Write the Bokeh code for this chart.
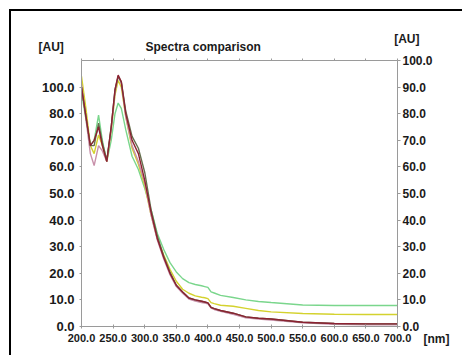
from bokeh.plotting import figure
from bokeh.models import Range1d, LinearAxis, FixedTicker, Title
from bokeh.embed import file_html
from bokeh.resources import INLINE

# Wavelength grid [nm]
wavelength = [200, 207, 214, 220, 227, 233, 240, 247, 253, 258, 263, 270, 280, 290, 300,
              310, 320, 330, 340, 350, 360, 370, 380, 390, 395, 400, 405, 410, 420, 440,
              460, 480, 500, 550, 600, 650, 700]

# Absorbance [AU] of each spectrum
maroon = [90, 79, 68, 70, 75, 68, 62, 75, 89, 94.5, 92, 80, 70, 65, 55,
          43, 33, 26, 20, 15.5, 13, 10.7, 10, 9.5, 9.2, 8.9, 7.2, 6.7, 6.0, 5.0,
          3.6, 3.1, 2.8, 1.6, 1.1, 1.0, 1.0]
pink = [91, 78, 65, 60.5, 68, 66, 62, 74, 88, 94, 91.5, 79, 68, 62, 54,
        42, 32.5, 25.5, 19.5, 15, 12.5, 10.3, 9.6, 9.0, 8.8, 8.5, 6.9, 6.4, 5.7, 4.6,
        3.3, 2.8, 2.4, 1.4, 0.8, 0.6, 0.6]
yellow = [94, 82, 68, 65, 72, 68, 62, 74, 87, 92.5, 90, 79, 67, 61, 53,
          42, 33, 27, 21.5, 17, 14, 12.5, 11.5, 11, 10.8, 10.5, 9, 8.6, 8.0, 7.6,
          6.8, 6.0, 5.5, 4.9, 4.6, 4.5, 4.5]
green = [88, 78, 68, 70, 79.5, 70, 62, 70, 80, 84, 82, 74, 64, 59, 52,
         44, 35, 29, 24, 20.5, 18, 16.5, 15.8, 15.3, 15, 14.7, 13, 12.6, 11.7, 10.9,
         10, 9.4, 9.0, 8.1, 7.9, 7.9, 7.9]
olive = [90, 79, 68, 68, 76.5, 69, 62.5, 75, 89, 94, 92, 81, 71.5, 67, 58,
         44, 34, 26.5, 20.5, 15.5, 13, 10.7, 10, 9.5, 9.2, 8.9, 7.2, 6.7, 6.0, 5.0,
         3.6, 3.1, 2.8, 1.6, 1.1, 1.0, 1.0]

x_ticks = [200, 250, 300, 350, 400, 450, 500, 550, 600, 650, 700]
left_ticks = [0, 10, 20, 30, 40, 50, 60, 70, 80, 90]
left_labels = ["0.0", "10.0", "20.0", "30.0", "40.0", "50.0", "60.0", "70.0", "80.0", "100.0"]
right_ticks = [0, 10, 20, 30, 40, 50, 60, 70, 80, 90, 100]

FONT = "Liberation Sans"
AXIS_COLOR = "#9a9a9a"
TEXT_COLOR = "#1a1a1a"

W, H = 453, 346
p = figure(width=W, height=H, output_backend="svg", toolbar_location=None,
           x_range=Range1d(200, 700), y_range=Range1d(0, 100),
           min_border_left=70, min_border_right=67, min_border_top=49, min_border_bottom=31,
           x_axis_location=None, y_axis_location=None)
p.margin = (11, 0, 0, 11)
p.styles = {"box-shadow": "-2px -2px 0 0 #000000"}
p.grid.visible = False
p.outline_line_color = None
p.background_fill_color = "white"
p.border_fill_color = "white"

series = [(green, "#7ad68c"), (yellow, "#d4d22e"), (pink, "#c890aa"),
          (olive, "#66704f"), (maroon, "#8c2232")]
for ys, c in series:
    p.line(wavelength, ys, line_color=c, line_width=1.4)


def style_axis(ax, size, tick_out=3, tick_in=0, standoff=4):
    ax.axis_line_color = AXIS_COLOR
    ax.major_tick_line_color = AXIS_COLOR
    ax.minor_tick_line_color = None
    ax.major_tick_out = tick_out
    ax.major_tick_in = tick_in
    ax.major_label_text_font = FONT
    ax.major_label_text_font_style = "bold"
    ax.major_label_text_font_size = size
    ax.major_label_text_color = TEXT_COLOR
    ax.major_label_standoff = standoff


bottom = LinearAxis(ticker=FixedTicker(ticks=x_ticks))
bottom.major_label_overrides = {t: f"{t:.1f}" for t in x_ticks}
style_axis(bottom, "11px", tick_out=2, tick_in=2, standoff=5)
p.add_layout(bottom, "below")

top = LinearAxis(ticker=FixedTicker(ticks=x_ticks))
style_axis(top, "1px", tick_out=2, standoff=0)
top.major_label_text_alpha = 0
p.add_layout(top, "above")

left = LinearAxis(ticker=FixedTicker(ticks=left_ticks))
left.major_label_overrides = {t: l for t, l in zip(left_ticks, left_labels)}
style_axis(left, "13px", tick_out=2, standoff=5)
p.add_layout(left, "left")

right = LinearAxis(ticker=FixedTicker(ticks=right_ticks))
right.major_label_overrides = {t: f"{t:.1f}" for t in right_ticks}
style_axis(right, "12px", tick_out=3, standoff=2)
p.add_layout(right, "right")


def make_title(txt, align, offset, standoff, valign="bottom", size="12px"):
    t = Title(text=txt, align=align, offset=offset, vertical_align=valign,
              text_font=FONT, text_font_style="bold", text_font_size=size,
              text_color=TEXT_COLOR)
    try:
        t.standoff = standoff
    except Exception:
        t.standoff = 0
    return t


# rows above the frame, from the frame outwards
p.add_layout(make_title("Spectra comparison", "left", 64, 10), "above")
p.add_layout(make_title("[AU]", "left", -43, -42), "above")
p.add_layout(make_title("[AU]", "right", -22, -26), "above")
# row below the bottom axis, pulled up beside the tick labels
p.add_layout(make_title("[nm]", "right", -52, -26, valign="top"), "below")

open("out.html", "w").write(file_html(p, INLINE))
